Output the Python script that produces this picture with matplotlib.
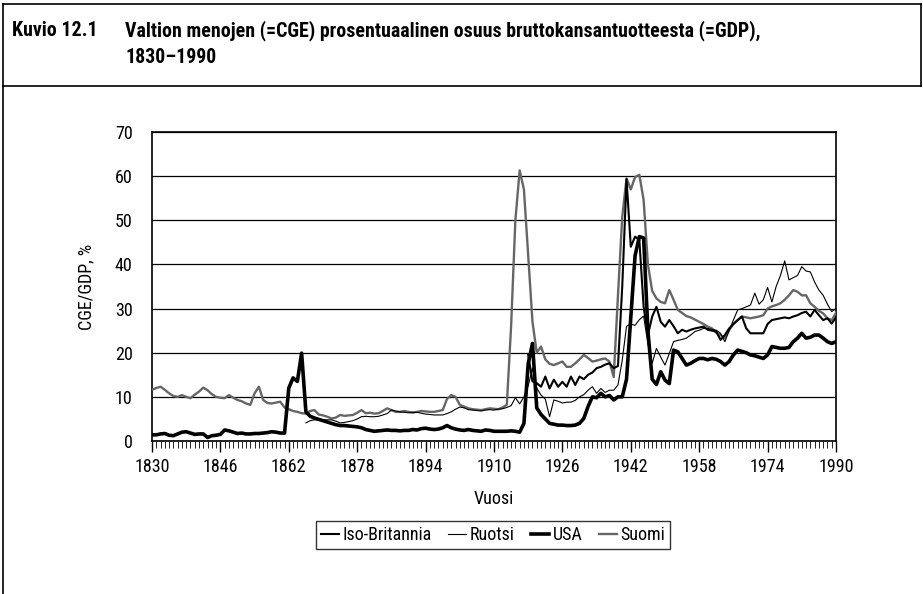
import matplotlib
matplotlib.use("Agg")
import matplotlib.pyplot as plt
from matplotlib import font_manager as fm
from matplotlib.lines import Line2D

# --- data ---
years_suomi = list(range(1830, 1991))
suomi = [11.6, 12.0, 12.3, 11.6, 10.8, 10.2, 10.0, 10.4, 10.0, 9.7,
         10.5, 11.2, 12.1, 11.5, 10.6, 10.0, 9.8, 9.7, 10.4, 9.8,
         9.3, 9.0, 8.5, 8.2, 10.8, 12.3, 9.3, 8.6, 8.5, 8.7,
         8.9, 7.6, 7.2, 6.8, 6.6, 6.3, 6.2, 6.8, 7.0, 6.0,
         5.8, 5.5, 5.1, 5.3, 5.9, 5.7, 5.8, 5.9, 6.4, 7.0,
         6.3, 6.4, 6.2, 6.3, 6.8, 7.4, 7.0, 6.6, 6.6, 6.8,
         6.6, 6.5, 6.6, 6.8, 6.7, 6.6, 6.6, 6.8, 7.0, 9.5,
         10.4, 10.0, 8.2, 7.8, 7.4, 7.2, 7.1, 7.0, 7.2, 7.4,
         7.3, 7.2, 7.6, 8.2, 26.0, 50.0, 61.3, 57.0, 42.0, 27.0,
         20.0, 21.4, 18.5, 17.5, 17.2, 17.6, 18.0, 16.8, 16.8, 17.6,
         18.5, 19.5, 18.8, 18.0, 18.2, 18.5, 18.7, 18.0, 14.5, 33.0,
         50.8, 59.5, 57.0, 59.8, 60.3, 54.6, 40.0, 34.0, 32.3, 31.5,
         31.2, 34.2, 32.0, 29.7, 29.0, 28.3, 28.0, 27.5, 27.0, 26.5,
         25.9, 25.5, 24.5, 24.0, 23.3, 25.1, 26.5, 27.4, 28.2, 28.0,
         27.8, 28.0, 28.2, 28.5, 30.0, 30.5, 30.8, 31.2, 32.0, 33.0,
         34.2, 33.8, 33.0, 33.0, 31.2, 30.4, 29.5, 28.9, 27.8, 27.4,
         29.0]

years_ruotsi = list(range(1866, 1991))
ruotsi = [4.1, 4.6, 4.8, 4.8, 4.8, 4.8, 4.8, 4.5, 4.1, 4.2,
          4.4, 4.6, 5.0, 5.5, 5.6, 5.5, 5.5, 5.6, 5.9, 6.2,
          7.0, 6.8, 6.6, 6.5, 6.4, 6.4, 6.5, 6.3, 6.1, 6.0,
          5.9, 5.9, 5.9, 6.2, 6.6, 7.2, 7.7, 7.5, 7.1, 7.0,
          6.9, 6.8, 7.0, 7.1, 7.0, 7.2, 7.3, 7.6, 8.0, 9.8,
          8.4, 10.0, 12.5, 16.5, 12.0, 10.4, 9.5, 5.5, 9.3, 9.0,
          8.6, 8.8, 8.8, 9.2, 10.0, 10.5, 11.5, 12.3, 10.8, 11.9,
          11.0, 11.5, 11.5, 12.7, 18.3, 26.0, 26.5, 26.2, 27.5, 28.3,
          22.0, 17.6, 21.0, 19.0, 17.2, 19.8, 22.5, 22.8, 23.0, 23.3,
          24.0, 24.8, 25.1, 25.5, 25.5, 25.3, 25.1, 24.4, 22.5, 25.0,
          27.4, 29.7, 30.0, 30.4, 30.8, 33.5, 31.0, 32.0, 34.8, 31.5,
          35.0, 37.5, 40.8, 36.5, 37.0, 37.5, 39.5, 38.5, 38.3, 36.0,
          34.2, 33.0, 31.0, 29.3, 30.0]

years_usa = list(range(1830, 1991))
usa = [1.4, 1.4, 1.6, 1.7, 1.3, 1.2, 1.6, 2.0, 2.1, 1.8,
       1.5, 1.6, 1.6, 0.8, 1.2, 1.3, 1.5, 2.5, 2.3, 2.0,
       1.7, 1.8, 1.6, 1.6, 1.7, 1.7, 1.8, 1.9, 2.1, 2.0,
       1.8, 1.8, 12.0, 14.3, 13.5, 19.9, 6.6, 5.6, 5.2, 4.9,
       4.6, 4.3, 4.0, 3.7, 3.5, 3.5, 3.4, 3.3, 3.2, 3.0,
       2.6, 2.4, 2.2, 2.3, 2.4, 2.5, 2.4, 2.4, 2.3, 2.4,
       2.4, 2.6, 2.5, 2.8, 2.9, 2.7, 2.6, 2.7, 3.0, 3.5,
       3.0, 2.7, 2.5, 2.4, 2.6, 2.4, 2.3, 2.2, 2.5, 2.4,
       2.2, 2.2, 2.2, 2.2, 2.3, 2.2, 2.0, 4.0, 17.5, 22.1,
       7.5, 6.0, 5.0, 4.0, 3.8, 3.6, 3.6, 3.5, 3.5, 3.6,
       4.0, 5.1, 7.8, 10.0, 9.8, 10.8, 10.0, 10.3, 9.3, 10.0,
       10.0, 14.0, 28.0, 42.0, 46.3, 46.0, 25.0, 14.0, 12.8, 15.7,
       13.8, 13.0, 20.6, 20.2, 18.7, 17.2, 17.6, 18.2, 18.7, 18.7,
       18.4, 18.7, 18.5, 18.0, 17.2, 18.0, 19.5, 20.6, 20.3, 20.0,
       19.5, 19.3, 19.0, 18.7, 19.5, 21.4, 21.2, 21.0, 21.0, 21.2,
       22.5, 23.3, 24.4, 23.3, 23.5, 24.0, 24.0, 23.3, 22.5, 22.1,
       22.5]

years_uk = list(range(1918, 1991))
uk = [19.5, 13.5, 13.1, 12.3, 14.6, 11.9, 13.9, 12.3, 13.4, 12.3,
      14.6, 12.7, 14.6, 14.0, 15.0, 15.5, 16.5, 16.8, 17.3, 17.6,
      16.5, 17.0, 35.0, 59.3, 44.0, 46.3, 45.5, 30.4, 24.0, 28.2,
      30.4, 27.0, 25.9, 27.4, 26.0, 24.4, 25.2, 24.8, 25.2, 25.5,
      25.7, 25.9, 25.2, 25.0, 24.8, 22.9, 24.0, 25.5, 26.5, 27.4,
      28.2, 25.5, 24.4, 24.4, 24.4, 24.4, 26.5, 27.4, 27.6, 27.8,
      28.0, 27.8, 28.2, 28.5, 29.0, 29.3, 28.2, 29.7, 28.5, 27.4,
      27.8, 26.6, 28.0]

labels = ['Iso-Britannia', 'Ruotsi', 'USA', 'Suomi']
xticks = list(range(1830, 1991, 16))

# the print uses a condensed sans; take a narrow face if one is installed
entries = fm.fontManager.ttflist
names = {f.name for f in entries}
if 'Liberation Sans Narrow' in names:
    plt.rcParams['font.family'] = ['Liberation Sans Narrow', 'DejaVu Sans']
    fs_title, fs = 13, 12
elif 'Roboto Condensed' in names:
    plt.rcParams['font.family'] = ['Roboto Condensed', 'DejaVu Sans']
    fs_title, fs = 14.3, 13
elif any(f.name == 'DejaVu Sans' and 'condensed' in str(f.stretch) for f in entries):
    plt.rcParams['font.family'] = ['DejaVu Sans']
    plt.rcParams['font.stretch'] = 'condensed'
    fs_title, fs = 12, 11
else:
    plt.rcParams['font.family'] = ['Liberation Sans', 'DejaVu Sans']
    fs_title, fs = 11.5, 11.5

fig = plt.figure(figsize=(9.23, 5.94), dpi=100)
W, H = 923, 594

# frame of the printed figure box
def fline(x0, y0, x1, y1, lw=1.2):
    fig.add_artist(Line2D([x0 / W, x1 / W], [1 - y0 / H, 1 - y1 / H],
                          transform=fig.transFigure, color='black', lw=lw))

fline(3, 4, 921, 4)
fline(3, 86, 921, 86)
fline(3, 4, 3, 594)
fline(921, 4, 921, 86)

fig.text(12 / W, 1 - 36 / H, 'Kuvio 12.1', fontsize=fs_title, fontweight='bold', va='baseline')
fig.text(125 / W, 1 - 36 / H,
         'Valtion menojen (=CGE) prosentuaalinen osuus bruttokansantuotteesta (=GDP),',
         fontsize=fs_title, fontweight='bold', va='baseline')
fig.text(125 / W, 1 - 63 / H, '1830\u20131990', fontsize=fs_title, fontweight='bold', va='baseline')

ax = fig.add_axes([152 / W, 1 - 441 / H, 684 / W, 309 / H])

ax.plot(years_suomi, suomi, color='#666666', lw=1.7, label=labels[3], zorder=3)
ax.plot(years_ruotsi, ruotsi, color='black', lw=0.8, label=labels[1], zorder=4)
ax.plot(years_uk, uk, color='black', lw=1.5, label=labels[0], zorder=5)
ax.plot(years_usa, usa, color='black', lw=2.6, label=labels[2], zorder=6)

ax.set_xlim(1830, 1990)
ax.set_ylim(0, 70)
ax.set_xticks(xticks)
ax.set_xticks(range(1830, 1991), minor=True)
ax.set_yticks(range(0, 71, 10))
ax.grid(axis='y', color='black', lw=0.9)
ax.set_axisbelow(True)
for s in ax.spines.values():
    s.set_color('black')
    s.set_linewidth(1.2)

ax.tick_params(axis='y', length=0, pad=14, labelsize=fs)
ax.tick_params(axis='x', which='major', length=8, width=1.0, pad=4, labelsize=fs)
ax.tick_params(axis='x', which='minor', length=5, width=0.6)

ax.set_xlabel('Vuosi', fontsize=fs, labelpad=10)
ax.set_ylabel('CGE/GDP, %', fontsize=fs, labelpad=14)

handles, labs = ax.get_legend_handles_labels()
order = [labs.index(l) for l in labels]
leg = fig.legend([handles[i] for i in order], [labs[i] for i in order],
                 loc='center', bbox_to_anchor=(493 / W, 1 - 535 / H), ncol=4,
                 fontsize=fs, frameon=True, fancybox=False, edgecolor='black',
                 handlelength=1.0, handletextpad=0.2, columnspacing=0.9,
                 borderpad=0.25, borderaxespad=0)
leg.get_frame().set_linewidth(1.0)

fig.savefig('out.png', dpi=100)
